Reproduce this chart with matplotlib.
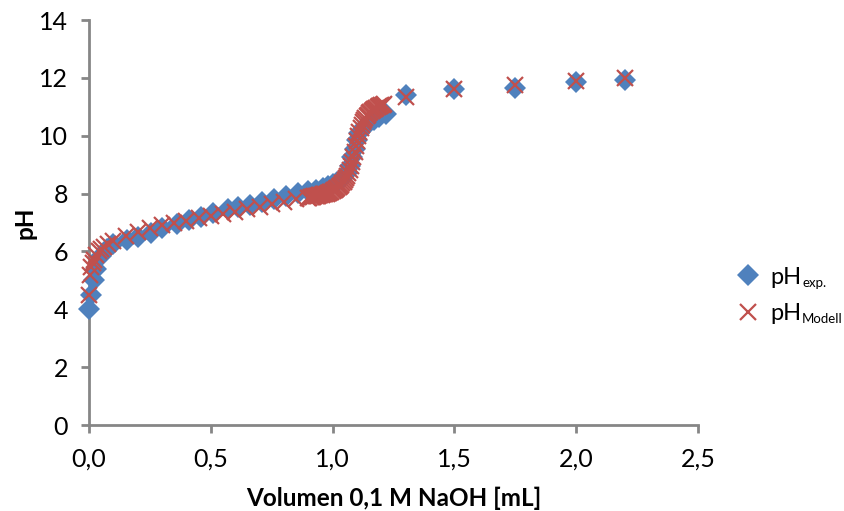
import matplotlib
matplotlib.use("Agg")
import matplotlib.pyplot as plt
from matplotlib.ticker import FuncFormatter

plt.rcParams['font.family'] = ['Lato', 'DejaVu Sans']

# Experimental data
exp_x = [0.0, 0.01, 0.02, 0.03, 0.05, 0.075, 0.1, 0.155, 0.2, 0.255, 0.3, 0.36,
         0.41, 0.46, 0.51, 0.57, 0.61, 0.66, 0.71, 0.76, 0.81, 0.86, 0.9, 0.93,
         0.96, 0.98, 1.0, 1.02, 1.04, 1.06, 1.07, 1.08, 1.09, 1.10, 1.11, 1.13,
         1.15, 1.17, 1.19, 1.22, 1.3, 1.5, 1.75, 2.0, 2.2]
exp_ph = [4.0, 4.5, 5.0, 5.4, 5.85, 6.1, 6.25, 6.4, 6.5, 6.64, 6.82, 6.96,
          7.1, 7.2, 7.33, 7.45, 7.52, 7.62, 7.72, 7.82, 7.92, 8.02, 8.08, 8.14,
          8.2, 8.26, 8.32, 8.4, 8.52, 8.72, 8.95, 9.25, 9.55, 9.85, 10.1, 10.3,
          10.45, 10.55, 10.65, 10.75, 11.4, 11.63, 11.65, 11.85, 11.93]

# Model data
mod_x = [0.0, 0.005, 0.01, 0.015, 0.02, 0.03, 0.04, 0.05, 0.06, 0.08, 0.1,
         0.15, 0.2, 0.25, 0.3, 0.35, 0.4, 0.45, 0.5, 0.55, 0.6, 0.65, 0.7,
         0.75, 0.8, 0.85,
         0.900, 0.905, 0.910, 0.915, 0.920, 0.925, 0.930, 0.935, 0.940, 0.945,
         0.950, 0.955, 0.960, 0.965, 0.970, 0.975, 0.980, 0.985, 0.990, 0.995,
         1.000, 1.005, 1.010, 1.015, 1.020, 1.025, 1.030, 1.035, 1.040, 1.045,
         1.050, 1.055, 1.060, 1.065, 1.070, 1.075, 1.080, 1.085, 1.090, 1.095,
         1.100, 1.105, 1.110, 1.115, 1.120, 1.125, 1.130, 1.135, 1.140, 1.145,
         1.150, 1.155, 1.160, 1.165, 1.170, 1.175, 1.180, 1.185, 1.190, 1.195,
         1.200, 1.205, 1.210,
         1.3, 1.5, 1.75, 2.0, 2.2]
mod_ph = [4.5, 5.2, 5.45, 5.6, 5.72, 5.88, 6.0, 6.08, 6.15, 6.27, 6.37,
          6.55, 6.68, 6.8, 6.9, 6.98, 7.06, 7.14, 7.22, 7.3, 7.38, 7.47, 7.55,
          7.63, 7.72, 7.8,
          7.85, 7.86, 7.87, 7.88, 7.89, 7.90, 7.91, 7.92, 7.93, 7.94,
          7.95, 7.96, 7.97, 7.98, 7.99, 8.00, 8.02, 8.03, 8.05, 8.07,
          8.09, 8.11, 8.13, 8.16, 8.19, 8.22, 8.26, 8.30, 8.35, 8.40,
          8.46, 8.53, 8.61, 8.70, 8.81, 8.94, 9.09, 9.26, 9.44, 9.63,
          9.81, 9.98, 10.13, 10.26, 10.37, 10.46, 10.54, 10.61, 10.67, 10.72,
          10.77, 10.81, 10.85, 10.88, 10.91, 10.94, 10.97, 10.99, 11.01, 11.03,
          11.05, 11.07, 11.09,
          11.35, 11.6, 11.75, 11.9, 11.98]

x_ticks = [0.0, 0.5, 1.0, 1.5, 2.0, 2.5]
y_ticks = [0, 2, 4, 6, 8, 10, 12, 14]
legend_main = ['pH', 'pH']
legend_sub = ['exp.', 'Modell']

fig = plt.figure(figsize=(8.44, 5.11), dpi=100)
ax = fig.add_axes([89/844, 1-425/511, (698-89)/844, (425-20)/511])

ax.plot(exp_x, exp_ph, linestyle='none', marker='D', markersize=11.5,
        color='#4F81BD', markeredgewidth=0, clip_on=False, zorder=3,
        label=legend_main[0])
ax.plot(mod_x, mod_ph, linestyle='none', marker='x', markersize=11.5,
        color='#C0504D', markeredgewidth=1.6, clip_on=False, zorder=4,
        label=legend_main[1])

ax.set_xlim(0, 2.5)
ax.set_ylim(0, 14)
ax.set_xticks(x_ticks)
ax.set_yticks(y_ticks)
ax.xaxis.set_major_formatter(FuncFormatter(lambda v, p: f"{v:.1f}".replace('.', ',')))

for s in ['top', 'right']:
    ax.spines[s].set_visible(False)
for s in ['left', 'bottom']:
    ax.spines[s].set_color('#868686')
    ax.spines[s].set_linewidth(2)
    ax.spines[s].set_zorder(2)
ax.tick_params(axis='both', direction='out', length=6, width=2, color='#868686',
               labelsize=18, labelcolor='black')
ax.tick_params(axis='x', pad=10)
ax.tick_params(axis='y', pad=9)

ax.set_xlabel('Volumen 0,1 M NaOH [mL]', fontsize=17.5, fontweight='bold', labelpad=12)
ax.set_ylabel('pH', fontsize=17.5, fontweight='bold', labelpad=2)

leg = ax.legend(loc='center left', bbox_to_anchor=(1.033, 0.32), frameon=False,
                fontsize=17, handletextpad=0.2, labelspacing=0.65, borderpad=0,
                markerscale=1.0, handlelength=1.5)

fig.canvas.draw()
renderer = fig.canvas.get_renderer()
inv = fig.transFigure.inverted()
for txt, sub in zip(leg.get_texts(), legend_sub):
    bb = txt.get_window_extent(renderer)
    x0, y0 = inv.transform((bb.x1 + 1, bb.y0 + 1))
    fig.text(x0, y0, sub, fontsize=9.5, ha='left', va='baseline')

fig.savefig('out.png', dpi=100)
